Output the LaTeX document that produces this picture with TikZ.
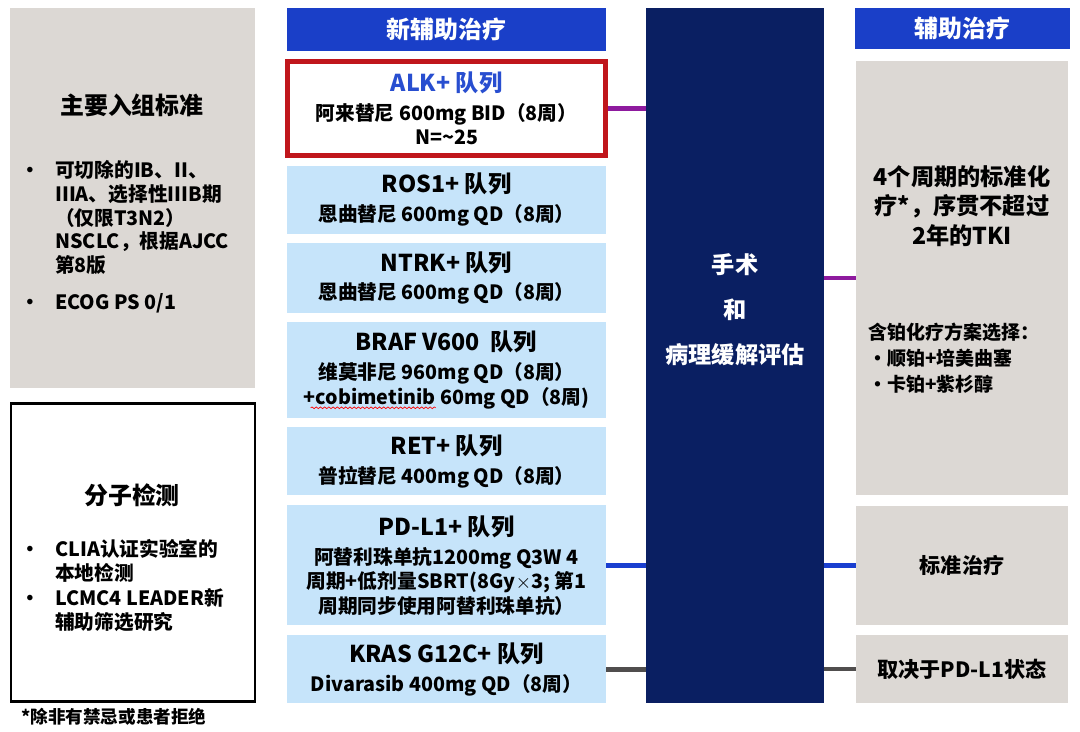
\documentclass[tikz,border=0pt]{standalone}
\usepackage{fontspec}
\setmainfont{Noto Sans CJK SC}
\usetikzlibrary{positioning,decorations.pathmorphing}

\definecolor{hdrblue}{RGB}{26,63,200}
\definecolor{navy}{RGB}{10,31,98}
\definecolor{cohortblue}{RGB}{198,228,250}
\definecolor{boxgrey}{RGB}{220,216,212}
\definecolor{alkred}{RGB}{192,22,28}
\definecolor{alkblue}{RGB}{40,78,208}
\definecolor{linkpurple}{RGB}{142,26,158}
\definecolor{linkblue}{RGB}{26,63,208}
\definecolor{linkgrey}{RGB}{80,78,78}

\newcommand{\ttl}[1]{{\fontsize{16.5}{20}\selectfont #1}\\[3pt]}

\begin{document}
\begin{tikzpicture}[x=0.025cm, y=-0.025cm, node distance=0.235cm,
  hdr/.style={fill=hdrblue, text=white, inner sep=0pt, font=\bfseries\fontsize{17}{20}\selectfont},
  cohort/.style={fill=cohortblue, minimum width=7.975cm, inner sep=0pt, align=center, font=\bfseries\fontsize{14}{17.5}\selectfont},
  greybox/.style={fill=boxgrey, inner sep=0pt, minimum width=5.3cm},
  txt/.style={inner sep=0pt, align=center, font=\bfseries\fontsize{14}{16.4}\selectfont},
  link/.style={line width=3pt}]
\useasboundingbox (0,0) rectangle (1080,731);

% left column
\node[fill=boxgrey, minimum width=6.125cm, minimum height=9.5cm] (incl) at (132.5,198) {};
\node[txt, font=\bfseries\fontsize{17}{20}\selectfont] (incltitle) at (132,105) {主要入组标准};
\node[txt, anchor=north west, align=left] (incllist) at (20,160) {%
  \begin{tabular}{@{}p{0.875cm}@{}l@{}}
  • & 可切除的IB、II、\\
    & IIIA、选择性IIIB期\\
    & （仅限T3N2）\\
    & NSCLC，根据AJCC\\
    & 第8版\\[10pt]
  • & ECOG PS 0/1
  \end{tabular}};
\node[draw, line width=1.5pt, minimum width=6.1cm, minimum height=7.45cm] (mol) at (133,552.5) {};
\node[txt, font=\bfseries\fontsize{17}{20}\selectfont] (moltitle) at (132,495) {分子检测};
\node[txt, anchor=north west, align=left] (mollist) at (20,539) {%
  \begin{tabular}{@{}p{0.875cm}@{}l@{}}
  • & CLIA认证实验室的\\
    & 本地检测\\[1pt]
  • & LCMC4 LEADER新\\
    & 辅助筛选研究
  \end{tabular}};
\node[txt, anchor=west, font=\bfseries\fontsize{12.5}{15}\selectfont] (note) at (21,717) {*除非有禁忌或患者拒绝};

% neoadjuvant cohorts
\node[hdr, minimum width=7.975cm, minimum height=1.075cm] (neo) at (446.5,29.5) {新辅助治疗};
\node[cohort, fill=white, draw=alkred, line width=3pt, minimum width=7.95cm, minimum height=2.35cm] (alk) at (446.5,108.5)
  {\ttl{\textcolor{alkblue}{ALK+ 队列}}阿来替尼 600mg BID（8周）\\N=\textasciitilde 25};
\node[cohort, minimum height=1.7cm, below=0.19cm of alk] (ros) {\ttl{ROS1+ 队列}恩曲替尼 600mg QD（8周）};
\node[cohort, minimum height=1.725cm, below=of ros] (ntrk) {\ttl{NTRK+ 队列}恩曲替尼 600mg QD（8周）};
\node[cohort, minimum height=2.375cm, below=of ntrk] (braf) {\ttl{BRAF V600~~队列}维莫非尼 960mg QD（8周）\\+cobimetinib 60mg QD（8周)};
\node[cohort, minimum height=1.7cm, below=of braf] (ret) {\ttl{RET+ 队列}普拉替尼 400mg QD（8周）};
\node[cohort, minimum height=3.0cm, below=of ret] (pdl) {\ttl{PD-L1+ 队列}阿替利珠单抗1200mg Q3W 4\\周期+低剂量SBRT(8Gy$\times$3; 第1\\周期同步使用阿替利珠单抗）};
\node[cohort, minimum height=1.7cm, below=of pdl] (kras) {\ttl{KRAS G12C+ 队列}Divarasib 400mg QD（8周）};
% spell-check squiggle
\draw[red, line width=0.5pt, decorate, decoration={snake, amplitude=0.6pt, segment length=3pt}]
  ([xshift=0.6cm, yshift=0.25cm]braf.south west) -- ++(125,0);

% surgery
\node[fill=navy, minimum width=4.45cm, minimum height=17.375cm] (ctr) at (735,355.5) {};
\node[txt, text=white, font=\bfseries\fontsize{16.5}{32}\selectfont] (ctrtext) at (735,310) {手术\\和\\病理缓解评估};

% adjuvant
\node[hdr, minimum width=5.375cm, minimum height=1.025cm] (adj) at (962.5,28.5) {辅助治疗};
\node[greybox, minimum height=10.85cm] (adj1) at (962,278) {};
\node[txt, font=\bfseries\fontsize{16.5}{21}\selectfont] (adj1text) at (962,206) {4个周期的标准化\\疗*，序贯不超过\\2年的TKI};
\node[txt, anchor=north west, align=left, font=\bfseries\fontsize{13.5}{18.5}\selectfont] (adj1list) at (868,321) {%
  \begin{tabular}{@{}p{0.475cm}@{}l@{}}
  \multicolumn{2}{@{}l@{}}{含铂化疗方案选择：}\\
  · & 顺铂+培美曲塞\\
  · & 卡铂+紫杉醇
  \end{tabular}};
\node[greybox, minimum height=2.975cm, font=\bfseries\fontsize{15}{18}\selectfont] (adj2) at (962,565.5) {标准治疗};
\node[greybox, minimum height=1.7cm, font=\bfseries\fontsize{15}{18}\selectfont] (adj3) at (962,669) {取决于PD-L1状态};

\foreach \a/\b/\c in {alk/adj1/linkpurple, pdl/adj2/linkblue, kras/adj3/linkgrey} {
  \draw[link, \c] (\a.east) -- (\a.east -| ctr.west);
  \draw[link, \c] (ctr.east |- \b.west) -- (\b.west);
}
\end{tikzpicture}
\end{document}
